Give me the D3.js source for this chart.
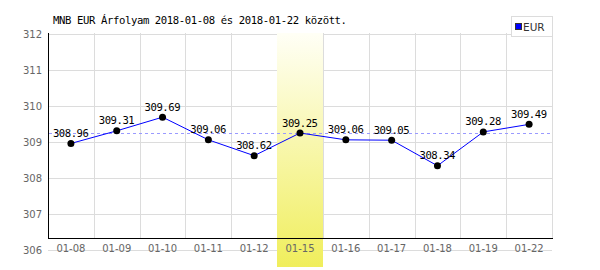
<!DOCTYPE html>
<html>
<head>
<meta charset="utf-8">
<script src="https://cdn.jsdelivr.net/npm/d3@7"></script>
<style>
  body { margin: 0; background: #fff; }
  text { font-family: "DejaVu Sans", sans-serif; }
  .mono { font-family: "DejaVu Sans Mono", monospace; }
</style>
</head>
<body>
<div id="chart"></div>
<script>
// chart data
var days = ["01-08", "01-09", "01-10", "01-11", "01-12", "01-15", "01-16", "01-17", "01-18", "01-19", "01-22"];
var rates = [308.96, 309.31, 309.69, 309.06, 308.62, 309.25, 309.06, 309.05, 308.34, 309.28, 309.49];
var yTicks = [306, 307, 308, 309, 310, 311, 312];
var highlightDay = "01-15";
var refValue = 309.25;
var title = "MNB EUR Árfolyam 2018-01-08 és 2018-01-22 között.";
var seriesName = "EUR";

var svgWidth = 600;
var svgHeight = 270;

// plot box (note: "top" is reserved on window, so plotTop)
var plotLeft = 48, plotRight = 552, plotTop = 33, axisY = 238;

var svg = d3.select("#chart")
  .append("svg")
  .attr("width", svgWidth)
  .attr("height", svgHeight);

var x = d3.scaleBand()
  .domain(days)
  .range([plotLeft, plotRight])
  .padding(0);

var y = d3.scaleLinear()
  .domain([306, 312])
  .range([250, 34]);

// gradient for highlighted day
var grad = svg.append("defs").append("linearGradient")
  .attr("id", "hl")
  .attr("x1", 0).attr("y1", 0).attr("x2", 0).attr("y2", 1);
grad.append("stop").attr("offset", "0%").attr("stop-color", "#fffff6");
grad.append("stop").attr("offset", "100%").attr("stop-color", "#f0ee5c");

// horizontal gridlines
svg.append("g").selectAll("line")
  .data(yTicks)
  .enter()
  .append("line")
  .attr("x1", plotLeft)
  .attr("x2", plotRight)
  .attr("y1", d => Math.round(y(d)) + 0.5)
  .attr("y2", d => Math.round(y(d)) + 0.5)
  .attr("stroke", "#dcdcdc");

// vertical gridlines (right edge of each day column)
svg.append("g").selectAll("line")
  .data(days)
  .enter()
  .append("line")
  .attr("x1", d => Math.round(x(d) + x.bandwidth()) + 0.5)
  .attr("x2", d => Math.round(x(d) + x.bandwidth()) + 0.5)
  .attr("y1", plotTop)
  .attr("y2", axisY)
  .attr("stroke", "#dcdcdc");

// highlight band
svg.append("rect")
  .attr("x", Math.round(x(highlightDay)))
  .attr("y", plotTop)
  .attr("width", Math.round(x.bandwidth()))
  .attr("height", 267 - plotTop)
  .attr("fill", "url(#hl)");

// y labels
svg.append("g").selectAll("text")
  .data(yTicks)
  .enter()
  .append("text")
  .attr("x", 42)
  .attr("y", d => y(d) + 4)
  .attr("text-anchor", "end")
  .attr("font-size", "10px")
  .attr("fill", "#666")
  .text(d => d);

// x labels
svg.append("g").selectAll("text")
  .data(days)
  .enter()
  .append("text")
  .attr("x", d => x(d) + x.bandwidth() / 2)
  .attr("y", 252)
  .attr("text-anchor", "middle")
  .attr("font-size", "10px")
  .attr("fill", "#666")
  .text(d => d);

// black axes
svg.append("line")
  .attr("x1", plotLeft + 0.5).attr("x2", plotLeft + 0.5)
  .attr("y1", plotTop).attr("y2", axisY + 1)
  .attr("stroke", "#000");
svg.append("line")
  .attr("x1", plotLeft).attr("x2", plotRight + 1)
  .attr("y1", axisY + 0.5).attr("y2", axisY + 0.5)
  .attr("stroke", "#000");

// reference dashed line
svg.append("line")
  .attr("x1", plotLeft + 1).attr("x2", plotRight)
  .attr("y1", Math.round(y(refValue)) + 0.5)
  .attr("y2", Math.round(y(refValue)) + 0.5)
  .attr("stroke", "#9a9aff")
  .attr("stroke-dasharray", "3,3");

// series line
var line = d3.line()
  .x((d, i) => x(days[i]) + x.bandwidth() / 2)
  .y(d => y(d));

svg.append("path")
  .datum(rates)
  .attr("d", line)
  .attr("fill", "none")
  .attr("stroke", "#0000ff")
  .attr("stroke-width", 1);

// points
svg.append("g").selectAll("circle")
  .data(rates)
  .enter()
  .append("circle")
  .attr("cx", (d, i) => x(days[i]) + x.bandwidth() / 2)
  .attr("cy", d => y(d))
  .attr("r", 3.5)
  .attr("fill", "#000");

// value labels
svg.append("g").selectAll("text")
  .data(rates)
  .enter()
  .append("text")
  .classed("mono", true)
  .attr("x", (d, i) => x(days[i]) + x.bandwidth() / 2)
  .attr("y", d => y(d) - 6.5)
  .attr("text-anchor", "middle")
  .attr("font-size", "10.6px")
  .attr("textLength", 36)
  .attr("lengthAdjust", "spacing")
  .attr("fill", "#000")
  .text(d => d.toFixed(2));

// title
svg.append("text")
  .classed("mono", true)
  .attr("x", 53)
  .attr("y", 23.5)
  .attr("font-size", "10.6px")
  .attr("textLength", 294)
  .attr("lengthAdjust", "spacing")
  .attr("fill", "#000")
  .text(title);

// legend
svg.append("rect")
  .attr("x", 511.5).attr("y", 16.5)
  .attr("width", 41).attr("height", 20)
  .attr("fill", "#fff")
  .attr("stroke", "#dcdcdc");
svg.append("rect")
  .attr("x", 515.5).attr("y", 23.5)
  .attr("width", 6).attr("height", 6)
  .attr("fill", "#0000ff")
  .attr("stroke", "#333");
svg.append("text")
  .attr("x", 523)
  .attr("y", 30.5)
  .attr("font-size", "10.5px")
  .attr("fill", "#333")
  .text(seriesName);
</script>
</body>
</html>
